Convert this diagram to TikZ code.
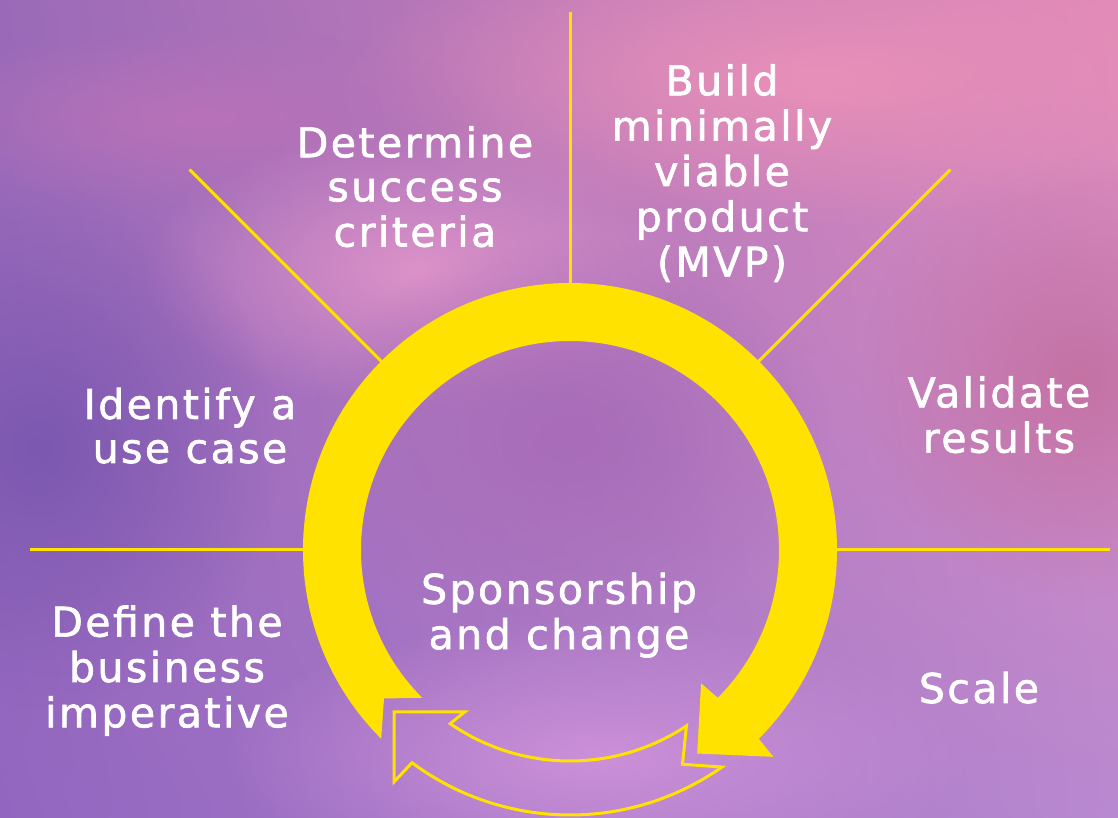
\documentclass[tikz,border=0pt]{standalone}
\usepackage{fontspec}
\setmainfont{DejaVu Sans}[LetterSpace=6.0, FakeBold=1.6]
\usetikzlibrary{fadings,shadings}
\definecolor{eyyellow}{RGB}{255,226,0}
\definecolor{bgUL}{RGB}{154,106,184}
\definecolor{bgUR}{RGB}{226,138,184}
\definecolor{bgLL}{RGB}{146,102,192}
\definecolor{bgLR}{RGB}{184,136,208}
\definecolor{glowpink}{RGB}{220,146,200}
\definecolor{glowtop}{RGB}{232,144,184}
\definecolor{glowdark}{RGB}{124,88,176}
\definecolor{glowlight}{RGB}{204,144,216}
\definecolor{glowmauve}{RGB}{196,114,164}
\definecolor{glowcenter}{RGB}{168,108,184}
\definecolor{glowband}{RGB}{184,114,184}
\tikzfading[name=glowfade, inner color=transparent!0, outer color=transparent!100]
\tikzset{
  ray/.style={draw=eyyellow, line width=3pt},
  label/.style={text=white, align=center, inner sep=0pt, font=\fontsize{41}{44}\selectfont},
  outlinearrow/.style={draw=eyyellow, line width=3pt, line join=miter},
}
\begin{document}
\begin{tikzpicture}[x=1pt,y=1pt]
% background
\useasboundingbox (0,0) rectangle (1118,818);
\shade[upper left=bgUL, upper right=bgUR, lower left=bgLL, lower right=bgLR] (0,0) rectangle (1118,818);
\begin{scope}
\clip (0,0) rectangle (1118,818);
\fill[glowtop, path fading=glowfade] (820,740) ellipse [x radius=480pt, y radius=150pt];
\fill[glowband, path fading=glowfade] (200,700) ellipse [x radius=300pt, y radius=90pt];
\fill[glowpink, path fading=glowfade] (420,548) ellipse [x radius=280pt, y radius=140pt];
\fill[glowdark, path fading=glowfade] (40,370) ellipse [x radius=240pt, y radius=260pt];
\fill[glowlight, path fading=glowfade] (600,60) ellipse [x radius=380pt, y radius=140pt];
\fill[glowmauve, path fading=glowfade] (1080,440) ellipse [x radius=220pt, y radius=220pt];
\fill[glowcenter, path fading=glowfade] (570,380) ellipse [x radius=260pt, y radius=200pt];
\end{scope}
\begin{scope}[shift={(570pt,268pt)}]
  % rays
  \foreach \a/\r in {0/540,45/538,90/538,135/538,180/540}{
    \coordinate (ra\a) at (\a:250pt);
    \coordinate (rb\a) at (\a:\r pt);
    \draw[ray] (ra\a) -- (rb\a);
  }
  % main yellow arrow
  \fill[eyyellow] (225:267pt) arc[start angle=225, end angle=-45, radius=267pt]
    -- (-45.5:290pt) -- (-58:240pt) -- (-45.5:187pt) -- (-45:209pt)
    arc[start angle=-45, end angle=225, radius=209pt]
    -- (218.6:238pt) -- cycle;
  % outline return arrow
  \draw[outlinearrow] (-56.5:211pt) arc[start angle=-56.5, end angle=-124.6, radius=211pt]
    -- (-123:193pt) -- (-137.4:239pt) -- (-127.2:291pt) -- (-126.6:265pt)
    arc[start angle=-126.6, end angle=-55, radius=265pt]
    -- (-62.3:242pt) -- cycle;
\end{scope}
% labels
\node[label] (determine) at (415,625) {\strut Determine\\\strut success\\\strut criteria};
\node[label] (build) at (722,641) {\strut Build\\\strut minimally\\\strut viable\\\strut product\\\strut (MVP)};
\node[label] (identify) at (190,386) {\strut Identify a\\\strut use case};
\node[label] (validate) at (999,397) {\strut Validate\\\strut results};
\node[label] (define) at (167,145) {\strut Define the\\\strut business\\\strut imperative};
\node[label] (scale) at (979,124) {\strut Scale};
\node[label] (sponsor) at (559,200.5) {\strut Sponsorship\\\strut and change};
\end{tikzpicture}
\end{document}
